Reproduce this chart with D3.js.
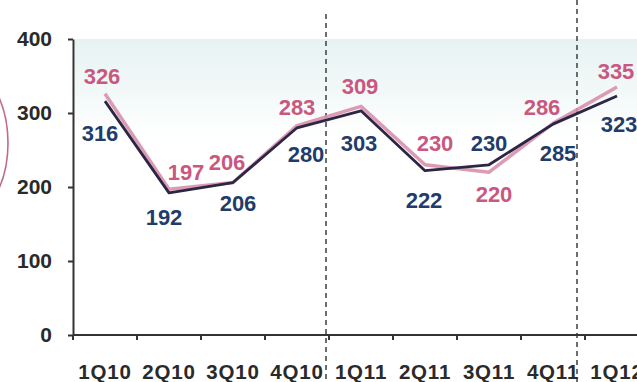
<!DOCTYPE html>
<html><head><meta charset="utf-8">
<script src="https://cdn.jsdelivr.net/npm/d3@7"></script>
<style>
html,body{margin:0;padding:0;background:#fff;}
svg{display:block;font-family:"Liberation Sans",Arial,sans-serif;}
</style></head>
<body>
<svg id="c" width="637" height="382"></svg>
<script>
// ---- data ----
const categories = ["1Q10","2Q10","3Q10","4Q10","1Q11","2Q11","3Q11","4Q11","1Q12"];
const seriesBlue = [316,192,206,280,303,222,230,285,323];
const seriesPink = [326,197,206,283,309,230,220,286,335];
const yTicks = [0,100,200,300,400];

// ---- layout (label nudges, not data) ----
const pinkLabelOff = [[-3,-18],[17,-17],[-6,-20],[0,-19],[-1,-20],[10,-22],[5,22],[-11,-16],[-1,-16]];
const blueLabelOff = [[-5,32],[-5,24],[5,21],[9,26],[-2,32],[-1,29],[0,-22],[5,29],[2,28]];

(function(){
const svg = d3.select("#c");
const mLeft = 73, bw = 64, mTop = 39, mBottom = 335;
const x = d3.scaleBand().domain(categories).range([mLeft, mLeft + bw*categories.length]).padding(0);
const y = d3.scaleLinear().domain([0,400]).range([mBottom, mTop]);
const cx = c => x(c) + x.bandwidth()/2;

// background tint band
const defs = svg.append("defs");
const g = defs.append("linearGradient").attr("id","bg").attr("x1",0).attr("y1",0).attr("x2",0).attr("y2",1);
g.append("stop").attr("offset","0%").attr("stop-color","#e2f0f0").attr("stop-opacity",0.85);
g.append("stop").attr("offset","55%").attr("stop-color","#eaf4f4").attr("stop-opacity",0.6);
g.append("stop").attr("offset","100%").attr("stop-color","#f2f8f8").attr("stop-opacity",0);
svg.append("rect").attr("x",mLeft+2).attr("y",mTop).attr("width",637-mLeft-2).attr("height",100).attr("fill","url(#bg)");

// red arc at left edge
svg.append("ellipse").attr("cx",-62).attr("cy",143).attr("rx",70).attr("ry",92)
  .attr("fill","none").attr("stroke","#c06a8c").attr("stroke-width",1.6);

// dashed separators
const sepX = [x("1Q11") - 3, x("1Q12") - 8];
const sepTop = [14, 0];
sepX.forEach((sx,i)=>{
  svg.append("line").attr("x1",sx).attr("x2",sx).attr("y1",sepTop[i]).attr("y2",382)
    .attr("stroke","#4a4a4a").attr("stroke-width",1.6).attr("stroke-dasharray","5,4");
});

// y axis
const yAxis = svg.append("g").attr("transform",`translate(${mLeft},0)`)
  .call(d3.axisLeft(y).tickValues(yTicks).tickSize(5).tickSizeOuter(0).tickPadding(16));
yAxis.select(".domain").attr("stroke","#333").attr("stroke-width",2);
yAxis.selectAll(".tick line").attr("stroke","#333").attr("stroke-width",2);
yAxis.selectAll("text").attr("fill","#2a2a2a").attr("font-size",21).attr("font-weight","bold")
  .attr("font-family","'Liberation Sans',Arial,sans-serif");

// x axis
const xAxis = svg.append("g").attr("transform",`translate(0,${mBottom})`);
xAxis.append("line").attr("x1",mLeft).attr("x2",637).attr("stroke","#333").attr("stroke-width",2);
d3.range(categories.length+1).forEach(i=>{
  const tx = mLeft + i*x.bandwidth();
  xAxis.append("line").attr("x1",tx).attr("x2",tx).attr("y1",0).attr("y2",5).attr("stroke","#333").attr("stroke-width",2);
});
xAxis.selectAll("text.xl").data(categories).enter().append("text").attr("class","xl")
  .attr("x",d=>cx(d)).attr("y",44).attr("text-anchor","middle")
  .attr("font-size",20.5).attr("font-weight","bold").attr("fill","#2a2a2a").attr("letter-spacing",0.8)
  .text(d=>d);

// lines
const line = d3.line().x((d,i)=>cx(categories[i])).y(d=>y(d));
svg.append("path").datum(seriesPink).attr("d",line).attr("fill","none")
  .attr("stroke","#d890ab").attr("stroke-width",3.5).attr("stroke-linejoin","round").attr("opacity",0.9);
svg.append("path").datum(seriesBlue).attr("d",line).attr("fill","none")
  .attr("stroke","#2c2545").attr("stroke-width",2.8).attr("stroke-linejoin","round");

// labels
const fs = 22;
svg.selectAll("text.pl").data(seriesPink).enter().append("text").attr("class","pl")
  .attr("x",(d,i)=>cx(categories[i]) + pinkLabelOff[i][0])
  .attr("y",(d,i)=>y(d) + pinkLabelOff[i][1] + fs*0.36)
  .attr("text-anchor","middle").attr("font-size",fs).attr("font-weight","bold")
  .attr("fill","#c9587f").text(d=>d);
svg.selectAll("text.bl").data(seriesBlue).enter().append("text").attr("class","bl")
  .attr("x",(d,i)=>cx(categories[i]) + blueLabelOff[i][0])
  .attr("y",(d,i)=>y(d) + blueLabelOff[i][1] + fs*0.36)
  .attr("text-anchor","middle").attr("font-size",fs).attr("font-weight","bold")
  .attr("fill","#1f3c6a").text(d=>d);
})();
</script>
</body></html>
